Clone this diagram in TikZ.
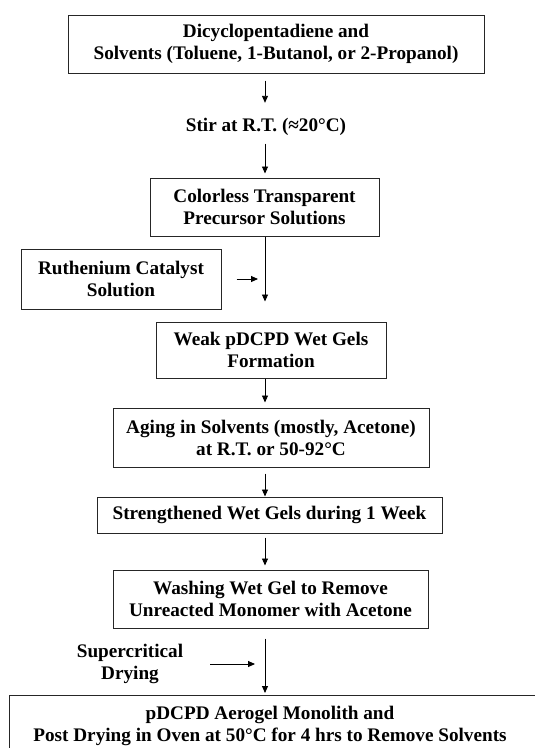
\documentclass[tikz,border=0pt]{standalone}
\usepackage{fontspec}
\setmainfont{Liberation Serif}
\usetikzlibrary{arrows.meta}
\tikzset{
  stepbox/.style={draw=black!85, line width=1pt, rectangle, align=center, inner sep=0pt,
    font=\fontsize{19.2}{22}\selectfont\bfseries},
  lbl/.style={align=center, inner sep=0pt, font=\fontsize{19.2}{22}\selectfont\bfseries},
  arr/.style={line width=0.9pt, -{Triangle[length=7pt,width=6pt]}}
}
\begin{document}
\begin{tikzpicture}[x=1pt,y=-1pt]
\useasboundingbox (0,0) rectangle (535,748);
\clip (0,0) rectangle (535,748);
\coordinate (ax) at (265,0);
\coordinate (j1) at (258,0);
\coordinate (j2) at (255,0);

\node[stepbox, minimum width=416pt, minimum height=58pt] (b1) at (276,44)
  {Dicyclopentadiene and\\Solvents (Toluene, 1-Butanol, or 2-Propanol)};
\node[lbl, text height=14pt, text depth=5pt] (stir) at (266,127) {Stir at R.T. (≈20°C)};
\node[stepbox, minimum width=229pt, minimum height=58pt] (b2) at (264.5,207)
  {Colorless Transparent\\Precursor Solutions};
\node[stepbox, minimum width=200pt, minimum height=60pt] (cat) at (121,279)
  {Ruthenium Catalyst\\Solution};
\node[stepbox, minimum width=230pt, minimum height=56pt] (b3) at (271,350)
  {Weak pDCPD Wet Gels\\Formation};
\node[stepbox, minimum width=316pt, minimum height=59pt] (b4) at (271,437.5)
  {Aging in Solvents (mostly, Acetone)\\at R.T. or 50-92°C};
\node[stepbox, minimum width=345pt, minimum height=36pt] (b5) at (269.5,515)
  {Strengthened Wet Gels during 1 Week};
\node[stepbox, minimum width=315pt, minimum height=58pt] (b6) at (270.5,599)
  {Washing Wet Gel to Remove\\Unreacted Monomer with Acetone};
\node[lbl] (sc) at (130,664) {Supercritical\\Drying};
\node[draw=black!85, line width=1pt, rectangle, minimum width=536pt, minimum height=70pt,
  anchor=north west, inner sep=0pt] (b7) at (9,695) {};
\node[lbl] (b7t) at (270,726) {pDCPD Aerogel Monolith and\\Post Drying in Oven at 50°C for 4 hrs to Remove Solvents};

\draw[arr, shorten <=7pt, shorten >=14.5pt] (b1.south -| ax) -- (stir.north -| ax);
\draw[arr, shorten <=7pt, shorten >=4pt] (stir.south -| ax) -- (b2.north -| ax);
\draw[arr, shorten >=20pt] (b2.south -| ax) -- (b3.north -| ax);
\draw[arr, shorten <=15pt] (cat.east) -- (cat.east -| j1);
\draw[arr, shorten >=5pt] (b3.south -| ax) -- (b4.north -| ax);
\draw[arr, shorten <=6pt] (b4.south -| ax) -- (b5.north -| ax);
\draw[arr, shorten <=4pt, shorten >=4pt] (b5.south -| ax) -- (b6.north -| ax);
\draw[arr, shorten <=10pt, shorten >=2pt] (b6.south -| ax) -- (b7.north -| ax);
\draw[arr, shorten <=27pt] (sc.east) -- (sc.east -| j2);
\end{tikzpicture}
\end{document}
